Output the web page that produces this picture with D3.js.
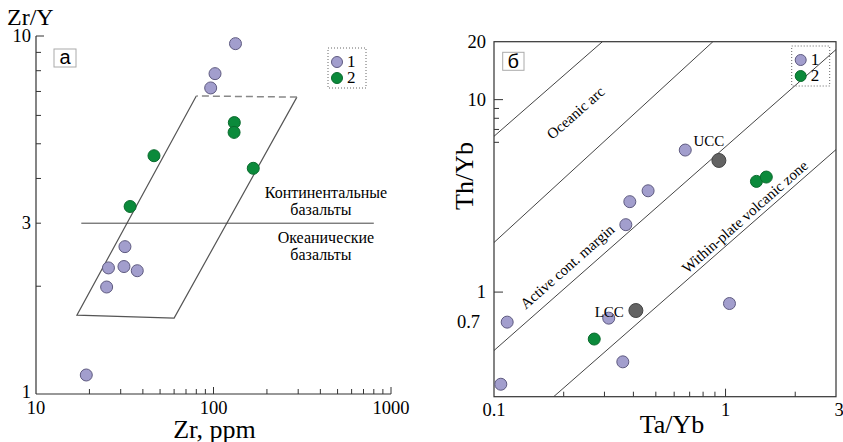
<!DOCTYPE html>
<html>
<head>
<meta charset="utf-8">
<script src="https://cdn.jsdelivr.net/npm/d3@7"></script>
<style>
  body { margin: 0; background: #ffffff; }
</style>
</head>
<body>
<div id="main_output"></div>
<script>
// ---- panel a : Zr/Y vs Zr ----
var aZr1  = [133, 102, 96.4, 31.7, 25.6, 31.3, 37.2, 25.0, 19.2];
var aZrY1 = [9.52, 7.85, 7.16, 2.58, 2.25, 2.27, 2.21, 1.99, 1.13];
var aZr2  = [46.2, 33.9, 131, 130.6, 167.5];
var aZrY2 = [4.63, 3.34, 5.73, 5.38, 4.27];

// field outline (last edge dashed)
var fieldZr  = [80, 17, 60, 295];
var fieldZrY = [6.8, 1.66, 1.63, 6.75];
// continental / oceanic divide
var divideZr = [18, 800];
var divideZrY = 3;

var aXTicks = [10, 100, 1000];
var aYTicks = [1, 3, 10];

// ---- panel б : Th/Yb vs Ta/Yb ----
var bTaYb1 = [0.67, 0.463, 0.386, 0.371, 0.114, 0.313, 1.04, 0.36, 0.107];
var bThYb1 = [5.47, 3.36, 2.95, 2.24, 0.698, 0.732, 0.872, 0.434, 0.332];
var bTaYb2 = [1.36, 1.50, 0.271];
var bThYb2 = [3.76, 3.96, 0.57];

var refNames = ["UCC", "LCC"];
var refTaYb  = [0.936, 0.41];
var refThYb  = [4.83, 0.802];

// boundary lines: start / end points
var lineTa0 = [0.1, 0.1, 0.1, 0.181];
var lineTh0 = [6.45, 1.81, 0.497, 0.286];
var lineTa1 = [0.294, 0.882, 3, 3];
var lineTh1 = [20, 20, 18.2, 5.5];

var zoneNames = ["Oceanic arc", "Active cont. margin", "Within-plate volcanic zone"];
var zoneTa    = [0.225, 0.207, 1.21];
var zoneTh    = [8.56, 1.36, 2.47];

var bXTicks = [0.1, 1, 3];
var bXLabels = ["0.1", "1", "3"];
var bYTicks = [0.7, 1, 10, 20];
var bYLabels = ["0.7", "1", "10", "20"];

var legendLabels = ["1", "2"];

var purple = "#a29ecd", purpleEdge = "#5e5a80";
var green = "#0b8a3b", greenEdge = "#0a6a2d";

var serif = "'Liberation Serif', 'Times New Roman', Tinos, 'DejaVu Serif', serif";
var sans = "'Liberation Sans', Arial, sans-serif";

var width = 843, height = 442;

var svg = d3.select("#main_output")
  .append("svg")
  .attr("width", width)
  .attr("height", height)
  .attr("font-family", serif)
  .style("font-family", serif);

svg.append("rect").attr("width", width).attr("height", height).attr("fill", "#fff");

// ------------------------------- PANEL A ---------------------------------

var ax = d3.scaleLog().domain([10, 1000]).range([36, 391]);
var ay = d3.scaleLog().domain([1, 10]).range([394, 36]);

var pa = svg.append("g").attr("class", "panel-a");

// axes lines
pa.append("line").attr("x1", ax(10)).attr("x2", ax(10)).attr("y1", ay(10)).attr("y2", ay(1))
  .attr("stroke", "#333").attr("stroke-width", 1.2);
pa.append("line").attr("x1", ax(10)).attr("x2", ax(1000)).attr("y1", ay(1)).attr("y2", ay(1))
  .attr("stroke", "#333").attr("stroke-width", 1.2);

// minor ticks, inward
var aXMinor = ax.ticks().filter(function(d) { return d > 10; });
pa.selectAll(".xtick")
  .data(aXMinor)
  .enter().append("line")
  .attr("x1", function(d) { return ax(d); })
  .attr("x2", function(d) { return ax(d); })
  .attr("y1", ay(1))
  .attr("y2", function(d) { return ay(1) - (aXTicks.indexOf(d) >= 0 ? 7 : 5); })
  .attr("stroke", "#333");

var aYMinor = ay.ticks().filter(function(d) { return d > 1; });
pa.selectAll(".ytick")
  .data(aYMinor)
  .enter().append("line")
  .attr("x1", ax(10))
  .attr("x2", function(d) { return ax(10) + (d === 10 ? 8 : 5); })
  .attr("y1", function(d) { return ay(d); })
  .attr("y2", function(d) { return ay(d); })
  .attr("stroke", "#333");

// tick labels
pa.selectAll(".xlab")
  .data(aXTicks)
  .enter().append("text")
  .attr("x", function(d) { return ax(d); })
  .attr("y", 414)
  .attr("text-anchor", "middle")
  .attr("font-size", "18.5px")
  .text(function(d) { return d; });

pa.selectAll(".ylab")
  .data(aYTicks)
  .enter().append("text")
  .attr("x", ax(10) - 5)
  .attr("y", function(d) { return ay(d) + (d === 1 ? 4 : 6); })
  .attr("text-anchor", "end")
  .attr("font-size", "18.5px")
  .text(function(d) { return d; });

// axis titles
pa.append("text").attr("x", 7).attr("y", 25).attr("font-size", "24px").text("Zr/Y");
pa.append("text").attr("x", ax(100) + 1).attr("y", 438).attr("text-anchor", "middle")
  .attr("font-size", "26px").text("Zr, ppm");

// field
var fieldPts = fieldZr.map(function(d, i) { return [ax(d), ay(fieldZrY[i])]; });
pa.append("path")
  .attr("d", d3.line()(fieldPts))
  .attr("fill", "none").attr("stroke", "#555").attr("stroke-width", 1.2);
pa.append("line")
  .attr("x1", fieldPts[3][0]).attr("y1", fieldPts[3][1])
  .attr("x2", fieldPts[0][0]).attr("y2", fieldPts[0][1])
  .attr("stroke", "#888").attr("stroke-width", 1.5).attr("stroke-dasharray", "7,4");

// divide line + labels
pa.append("line")
  .attr("x1", ax(divideZr[0])).attr("x2", ax(divideZr[1]))
  .attr("y1", ay(divideZrY)).attr("y2", ay(divideZrY))
  .attr("stroke", "#444").attr("stroke-width", 1);

var divLabels = [["Континентальные", -25], ["базальты", -8], ["Океанические", 20], ["базальты", 37]];
pa.selectAll(".divlab")
  .data(divLabels)
  .enter().append("text")
  .attr("x", function(d, i) { return ax(430) - (i % 2 ? 5 : 0); })
  .attr("y", function(d) { return ay(divideZrY) + d[1]; })
  .attr("text-anchor", "middle")
  .attr("font-size", "16px")
  .text(function(d) { return d[0]; });

// points
pa.selectAll(".p1")
  .data(aZr1)
  .enter().append("circle")
  .attr("cx", function(d) { return ax(d); })
  .attr("cy", function(d, i) { return ay(aZrY1[i]); })
  .attr("r", 6)
  .attr("fill", purple).attr("stroke", purpleEdge).attr("stroke-width", 1);

pa.selectAll(".p2")
  .data(aZr2)
  .enter().append("circle")
  .attr("cx", function(d) { return ax(d); })
  .attr("cy", function(d, i) { return ay(aZrY2[i]); })
  .attr("r", 6)
  .attr("fill", green).attr("stroke", greenEdge).attr("stroke-width", 1);

// panel letter
pa.append("rect").attr("x", 54).attr("y", 49).attr("width", 22).attr("height", 18)
  .attr("fill", "#fff").attr("stroke", "#aaa");
pa.append("text").attr("x", 65).attr("y", 64).attr("text-anchor", "middle")
  .attr("font-family", sans).style("font-family", sans).attr("font-size", "20px").text("а");

// legend
function drawLegend(g, x0, y0) {
  g.append("rect").attr("x", x0).attr("y", y0).attr("width", 38).attr("height", 40)
    .attr("fill", "none").attr("stroke", "#666").attr("stroke-dasharray", "1,2");
  g.selectAll(".leg")
    .data(legendLabels)
    .enter().append("circle")
    .attr("cx", x0 + 9)
    .attr("cy", function(d, i) { return y0 + 14 + i * 16; })
    .attr("r", 5.5)
    .attr("fill", function(d, i) { return i ? green : purple; })
    .attr("stroke", function(d, i) { return i ? greenEdge : purpleEdge; });
  g.selectAll(".legtxt")
    .data(legendLabels)
    .enter().append("text")
    .attr("x", x0 + 19)
    .attr("y", function(d, i) { return y0 + 19 + i * 16; })
    .attr("font-size", "17px")
    .text(function(d) { return d; });
}
drawLegend(pa, 328, 48);

// ------------------------------- PANEL B ---------------------------------

var bx = d3.scaleLog().domain([0.1, 3]).range([494, 836]);
var by = d3.scaleLog().domain([0.286, 20]).range([396.7, 41.7]);

var pb = svg.append("g").attr("class", "panel-b");

pb.append("clipPath").attr("id", "clipb")
  .append("rect").attr("x", bx(0.1)).attr("y", by(20))
  .attr("width", bx(3) - bx(0.1)).attr("height", by(0.286) - by(20));

// boundary lines
pb.selectAll(".bline")
  .data(lineTa0)
  .enter().append("line")
  .attr("clip-path", "url(#clipb)")
  .attr("x1", function(d) { return bx(d); })
  .attr("y1", function(d, i) { return by(lineTh0[i]); })
  .attr("x2", function(d, i) { return bx(lineTa1[i]); })
  .attr("y2", function(d, i) { return by(lineTh1[i]); })
  .attr("stroke", "#444").attr("stroke-width", 1);

// zone labels, rotated along the lines
var angle = Math.atan2(by(lineTh1[2]) - by(lineTh0[2]), bx(lineTa1[2]) - bx(lineTa0[2])) * 180 / Math.PI;
pb.selectAll(".zone")
  .data(zoneNames)
  .enter().append("text")
  .attr("transform", function(d, i) {
    return "translate(" + bx(zoneTa[i]) + "," + by(zoneTh[i]) + ") rotate(" + angle + ")";
  })
  .attr("text-anchor", "middle")
  .attr("dy", "0.35em")
  .attr("font-size", "15px")
  .text(function(d) { return d; });

// frame
pb.append("rect")
  .attr("x", bx(0.1)).attr("y", by(20))
  .attr("width", bx(3) - bx(0.1)).attr("height", by(0.286) - by(20))
  .attr("fill", "none").attr("stroke", "#333").attr("stroke-width", 1.2);

// ticks
var bXMinor = [0.2, 0.3, 0.4, 0.5, 0.6, 0.7, 0.8, 0.9, 1, 2];
pb.selectAll(".bxt")
  .data(bXMinor)
  .enter().append("line")
  .attr("x1", function(d) { return bx(d); })
  .attr("x2", function(d) { return bx(d); })
  .attr("y1", by(0.286))
  .attr("y2", function(d) { return by(0.286) - (d === 1 ? 8 : 5); })
  .attr("stroke", "#333");

var bYMinor = [1, 6, 7, 8, 9, 10];
pb.selectAll(".byt")
  .data(bYMinor)
  .enter().append("line")
  .attr("x1", bx(0.1))
  .attr("x2", function(d) { return bx(0.1) + (d === 1 || d === 10 ? 9 : 5); })
  .attr("y1", function(d) { return by(d); })
  .attr("y2", function(d) { return by(d); })
  .attr("stroke", "#333");

pb.selectAll(".bxl")
  .data(bXTicks)
  .enter().append("text")
  .attr("x", function(d) { return bx(d) + (d === 3 ? 3 : 0); })
  .attr("y", 416)
  .attr("text-anchor", "middle")
  .attr("font-size", "18.5px")
  .text(function(d, i) { return bXLabels[i]; });

pb.selectAll(".byl")
  .data(bYTicks)
  .enter().append("text")
  .attr("x", function(d) { return d === 0.7 ? 480 : 486; })
  .attr("y", function(d) { return by(d) + 6; })
  .attr("text-anchor", "end")
  .attr("font-size", "18.5px")
  .text(function(d, i) { return bYLabels[i]; });

// axis titles
pb.append("text").attr("x", 672).attr("y", 433).attr("text-anchor", "middle")
  .attr("font-size", "26px").text("Ta/Yb");
pb.append("text").attr("transform", "translate(473,176) rotate(-90)")
  .attr("text-anchor", "middle").attr("font-size", "26px").text("Th/Yb");

// data points
pb.selectAll(".q1")
  .data(bTaYb1)
  .enter().append("circle")
  .attr("cx", function(d) { return bx(d); })
  .attr("cy", function(d, i) { return by(bThYb1[i]); })
  .attr("r", 6)
  .attr("fill", purple).attr("stroke", purpleEdge).attr("stroke-width", 1);

pb.selectAll(".q2")
  .data(bTaYb2)
  .enter().append("circle")
  .attr("cx", function(d) { return bx(d); })
  .attr("cy", function(d, i) { return by(bThYb2[i]); })
  .attr("r", 6)
  .attr("fill", green).attr("stroke", greenEdge).attr("stroke-width", 1);

// crust references
pb.selectAll(".ref")
  .data(refTaYb)
  .enter().append("circle")
  .attr("cx", function(d) { return bx(d); })
  .attr("cy", function(d, i) { return by(refThYb[i]); })
  .attr("r", 7)
  .attr("fill", "#636363").attr("stroke", "#444").attr("stroke-width", 1);

pb.selectAll(".reflab")
  .data(refNames)
  .enter().append("text")
  .attr("x", function(d, i) { return bx(refTaYb[i]) + (i ? -12 : -10); })
  .attr("y", function(d, i) { return by(refThYb[i]) + (i ? 6 : -14); })
  .attr("text-anchor", function(d, i) { return i ? "end" : "middle"; })
  .attr("font-size", "15px")
  .text(function(d) { return d; });

// panel letter
pb.append("rect").attr("x", 502.7).attr("y", 52.3).attr("width", 21.3).attr("height", 18)
  .attr("fill", "#fff").attr("stroke", "#aaa");
pb.append("text").attr("x", 513.3).attr("y", 67.5).attr("text-anchor", "middle")
  .attr("font-family", sans).style("font-family", sans).attr("font-size", "20px").text("б");

drawLegend(pb, 791.7, 46);
</script>
</body>
</html>
